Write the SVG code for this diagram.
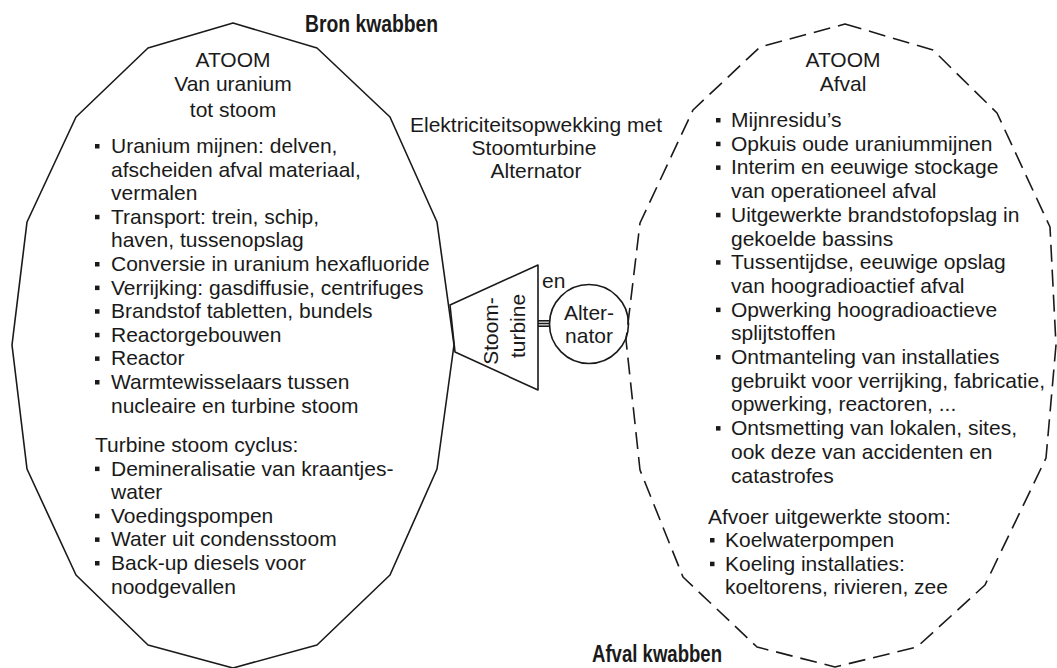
<svg xmlns="http://www.w3.org/2000/svg" xmlns:xlink="http://www.w3.org/1999/xlink" width="1057" height="668" viewBox="0 0 1057 668">
<style>
text{font-family:"Liberation Sans",Arial,sans-serif;font-size:21px;fill:#1a1a1a}
.c{text-anchor:middle}
.t{font-weight:bold;font-size:23px}
.ln{fill:none;stroke:#1a1a1a;stroke-width:1.6;stroke-linejoin:round}
.dash{stroke-dasharray:17 8}
</style>
<defs>
<rect id="b" width="4.5" height="4.5" fill="#1a1a1a"/>
</defs>
<rect width="1057" height="668" fill="#fff"/>
<text class="t" x="305" y="32" textLength="133" lengthAdjust="spacingAndGlyphs">Bron kwabben</text>
<text class="t" x="592" y="662" textLength="130" lengthAdjust="spacingAndGlyphs">Afval kwabben</text>

<g id="bron-kwab">
<polygon class="ln" points="233,23 317,48 390,117 437,222 454,345 437,469 390,575 317,645 233,668 148,645 76,575 27,469 12,345 27,222 76,117 148,48"/>
<text class="c" x="233" y="67">ATOOM</text>
<text class="c" x="233" y="91">Van uranium</text>
<text class="c" x="233" y="117">tot stoom</text>
<use xlink:href="#b" x="95" y="144"/><text x="111" y="153">Uranium mijnen: delven,</text>
<text x="111" y="176.6">afscheiden afval materiaal,</text>
<text x="111" y="200.2">vermalen</text>
<use xlink:href="#b" x="95" y="214.8"/><text x="111" y="223.8">Transport: trein, schip,</text>
<text x="111" y="247.4">haven, tussenopslag</text>
<use xlink:href="#b" x="95" y="262"/><text x="111" y="271">Conversie in uranium hexafluoride</text>
<use xlink:href="#b" x="95" y="285.6"/><text x="111" y="294.6">Verrijking: gasdiffusie, centrifuges</text>
<use xlink:href="#b" x="95" y="309.2"/><text x="111" y="318.2">Brandstof tabletten, bundels</text>
<use xlink:href="#b" x="95" y="332.8"/><text x="111" y="341.8">Reactorgebouwen</text>
<use xlink:href="#b" x="95" y="356.4"/><text x="111" y="365.4">Reactor</text>
<use xlink:href="#b" x="95" y="380"/><text x="111" y="389">Warmtewisselaars tussen</text>
<text x="111" y="412.6">nucleaire en turbine stoom</text>
<text x="95" y="452">Turbine stoom cyclus:</text>
<use xlink:href="#b" x="95" y="466.6"/><text x="111" y="475.6">Demineralisatie van kraantjes-</text>
<text x="111" y="499.2">water</text>
<use xlink:href="#b" x="95" y="513.8"/><text x="111" y="522.8">Voedingspompen</text>
<use xlink:href="#b" x="95" y="537.4"/><text x="111" y="546.4">Water uit condensstoom</text>
<use xlink:href="#b" x="95" y="561"/><text x="111" y="570">Back-up diesels voor</text>
<text x="111" y="593.6">noodgevallen</text>
</g>

<g id="afval-kwab">
<polygon class="ln dash" points="845,24 933,50 997,113 1050,227 1056,345 1046,458 985,585 917,647 835,667 757,647 683,577 640,470 626,340 640,223 693,110 760,47"/>
<text class="c" x="843" y="67">ATOOM</text>
<text class="c" x="843" y="91">Afval</text>
<use xlink:href="#b" x="716" y="118"/><text x="731" y="127">Mijnresidu’s</text>
<use xlink:href="#b" x="716" y="141.7"/><text x="731" y="150.7">Opkuis oude uraniummijnen</text>
<use xlink:href="#b" x="716" y="165.4"/><text x="731" y="174.4">Interim en eeuwige stockage</text>
<text x="731" y="198.1">van operationeel afval</text>
<use xlink:href="#b" x="716" y="212.8"/><text x="731" y="221.8">Uitgewerkte brandstofopslag in</text>
<text x="731" y="245.5">gekoelde bassins</text>
<use xlink:href="#b" x="716" y="260.2"/><text x="731" y="269.2">Tussentijdse, eeuwige opslag</text>
<text x="731" y="292.9">van hoogradioactief afval</text>
<use xlink:href="#b" x="716" y="307.6"/><text x="731" y="316.6">Opwerking hoogradioactieve</text>
<text x="731" y="340.3">splijtstoffen</text>
<use xlink:href="#b" x="716" y="355"/><text x="731" y="364">Ontmanteling van installaties</text>
<text x="731" y="387.7">gebruikt voor verrijking, fabricatie,</text>
<text x="731" y="411.4">opwerking, reactoren, ...</text>
<use xlink:href="#b" x="716" y="426.1"/><text x="731" y="435.1">Ontsmetting van lokalen, sites,</text>
<text x="731" y="458.8">ook deze van accidenten en</text>
<text x="731" y="482.5">catastrofes</text>
<text x="708" y="524">Afvoer uitgewerkte stoom:</text>
<use xlink:href="#b" x="710" y="538"/><text x="725" y="547">Koelwaterpompen</text>
<use xlink:href="#b" x="710" y="561.7"/><text x="725" y="570.7">Koeling installaties:</text>
<text x="725" y="594.4">koeltorens, rivieren, zee</text>
</g>

<g id="titel">
<text class="c" x="536" y="132">Elektriciteitsopwekking met</text>
<text class="c" x="534" y="155">Stoomturbine</text>
<text class="c" x="536" y="178">Alternator</text>
</g>

<g id="stoomturbine">
<polygon class="ln" points="450,305 538,265 538,390 455,352"/>
<text class="c" transform="translate(498,331) rotate(-90)">Stoom-</text>
<text class="c" transform="translate(525,326) rotate(-90)">turbine</text>
</g>

<g id="en-label">
<text x="542" y="288">en</text>
</g>

<g id="alternator">
<circle class="ln" cx="589" cy="324" r="39.5"/>
<text class="c" x="589" y="320">Alter-</text>
<text class="c" x="589" y="343">nator</text>
</g>

<g id="connectors">
<line class="ln" x1="538" y1="320.8" x2="550" y2="320.8" stroke-width="1.2"/>
<line class="ln" x1="538" y1="323.5" x2="550" y2="323.5" stroke-width="1.2"/>
<line class="ln" x1="538" y1="326.2" x2="550" y2="326.2" stroke-width="1.2"/>
</g>
</svg>
